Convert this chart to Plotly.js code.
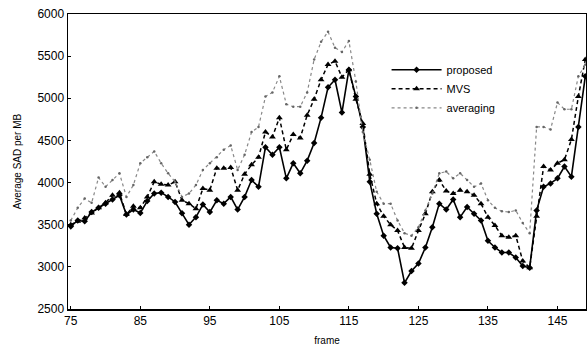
<!DOCTYPE html>
<html>
<head>
<meta charset="utf-8">
<script src="https://cdn.plot.ly/plotly-3.0.1.min.js"></script>
<style>html,body{margin:0;padding:0;background:#fff;}#chart{width:587px;height:354px;}</style>
</head>
<body>
<div id="chart"></div>
<script>
var firstFrame = 75;
var proposed = [3480,3550,3540,3650,3700,3750,3800,3850,3620,3680,3640,3780,3870,3880,3830,3770,3635,3500,3590,3740,3650,3790,3750,3830,3680,3830,4030,3950,4420,4330,4420,4050,4230,4110,4260,4470,4770,5130,5220,4830,5340,5020,4660,4010,3630,3370,3230,3220,2810,2950,3040,3230,3470,3750,3680,3800,3590,3710,3630,3550,3310,3230,3170,3170,3110,3010,2990,3670,3950,3990,4050,4190,4070,4660,5260];
var mvs = [3500,3540,3580,3640,3700,3760,3850,3880,3620,3720,3700,3830,4010,3980,3970,4010,3790,3750,3690,3930,3910,4170,4170,4180,3910,4100,4210,4300,4600,4540,4770,4390,4570,4530,4800,4990,5220,5400,5440,5250,5340,4990,4700,4100,3750,3600,3500,3430,3230,3220,3430,3630,3890,4030,3900,3870,3910,3890,3850,3750,3590,3490,3370,3350,3370,3070,2990,3600,4190,4150,4230,4270,4510,5020,5460];
var averaging = [3550,3700,3810,3760,4060,3950,4030,4110,3830,3970,4230,4300,4370,4230,4110,4010,3830,3870,3970,4150,4230,4300,4390,4440,4150,4330,4600,4660,5020,5070,5260,4930,4900,4900,5070,5460,5670,5790,5600,5550,5680,5200,4600,4270,3890,3750,3750,3550,3400,3370,3470,3670,3870,4110,4130,4050,4110,4030,3950,3990,3790,3700,3660,3650,3670,3520,3400,4660,4660,4630,4950,4870,4870,5260,5400];
var xTicks = [75,85,95,105,115,125,135,145];
var seriesNames = ["proposed","MVS","averaging"];

var frames = proposed.map(function(_, i){ return firstFrame + i; });

var traces = [
  {x: frames, y: proposed, name: seriesNames[0], type: 'scatter', mode: 'lines+markers',
   line: {color: '#000', width: 1.6}, marker: {symbol: 'diamond', size: 5, color: '#000'}},
  {x: frames, y: mvs, name: seriesNames[1], type: 'scatter', mode: 'lines+markers',
   line: {color: '#000', width: 1.5, dash: '4px,3px'}, marker: {symbol: 'triangle-up', size: 6, color: '#000'}},
  {x: frames, y: averaging, name: seriesNames[2], type: 'scatter', mode: 'lines+markers',
   line: {color: '#888', width: 1.2, dash: 'dot'}, marker: {symbol: 'circle', size: 2.5, color: '#666'}}
];

var layout = {
  width: 587, height: 354,
  margin: {l: 68, r: 1, t: 14, b: 45},
  paper_bgcolor: '#fff', plot_bgcolor: '#fff',
  font: {family: 'Arial, "Liberation Sans", sans-serif', color: '#000'},
  showlegend: true,
  legend: {x: 0.615, y: 0.86, xanchor: 'left', yanchor: 'top', bgcolor: 'rgba(0,0,0,0)',
           font: {size: 11, color: '#000'}, itemwidth: 50, tracegroupgap: 0},
  xaxis: {range: [74.6, 149.1], tickvals: xTicks, ticktext: xTicks.map(String),
          showgrid: false, zeroline: false, showline: true, linecolor: '#000', linewidth: 1.5,
          mirror: true, ticks: 'inside', ticklen: 3, tickcolor: '#000',
          tickfont: {size: 12, color: '#000'},
          title: {text: 'frame', font: {size: 10, color: '#000'}, standoff: 10}},
  yaxis: {range: [2500, 6000], dtick: 500, tick0: 2500,
          showgrid: false, zeroline: false, showline: true, linecolor: '#000', linewidth: 1.5,
          mirror: true, ticks: 'inside', ticklen: 3, tickcolor: '#000',
          tickfont: {size: 12, color: '#000'},
          title: {text: 'Average SAD per MB', font: {size: 10, color: '#000'}, standoff: 14}}
};

Plotly.newPlot('chart', traces, layout, {displayModeBar: false, staticPlot: true});
</script>
</body>
</html>
